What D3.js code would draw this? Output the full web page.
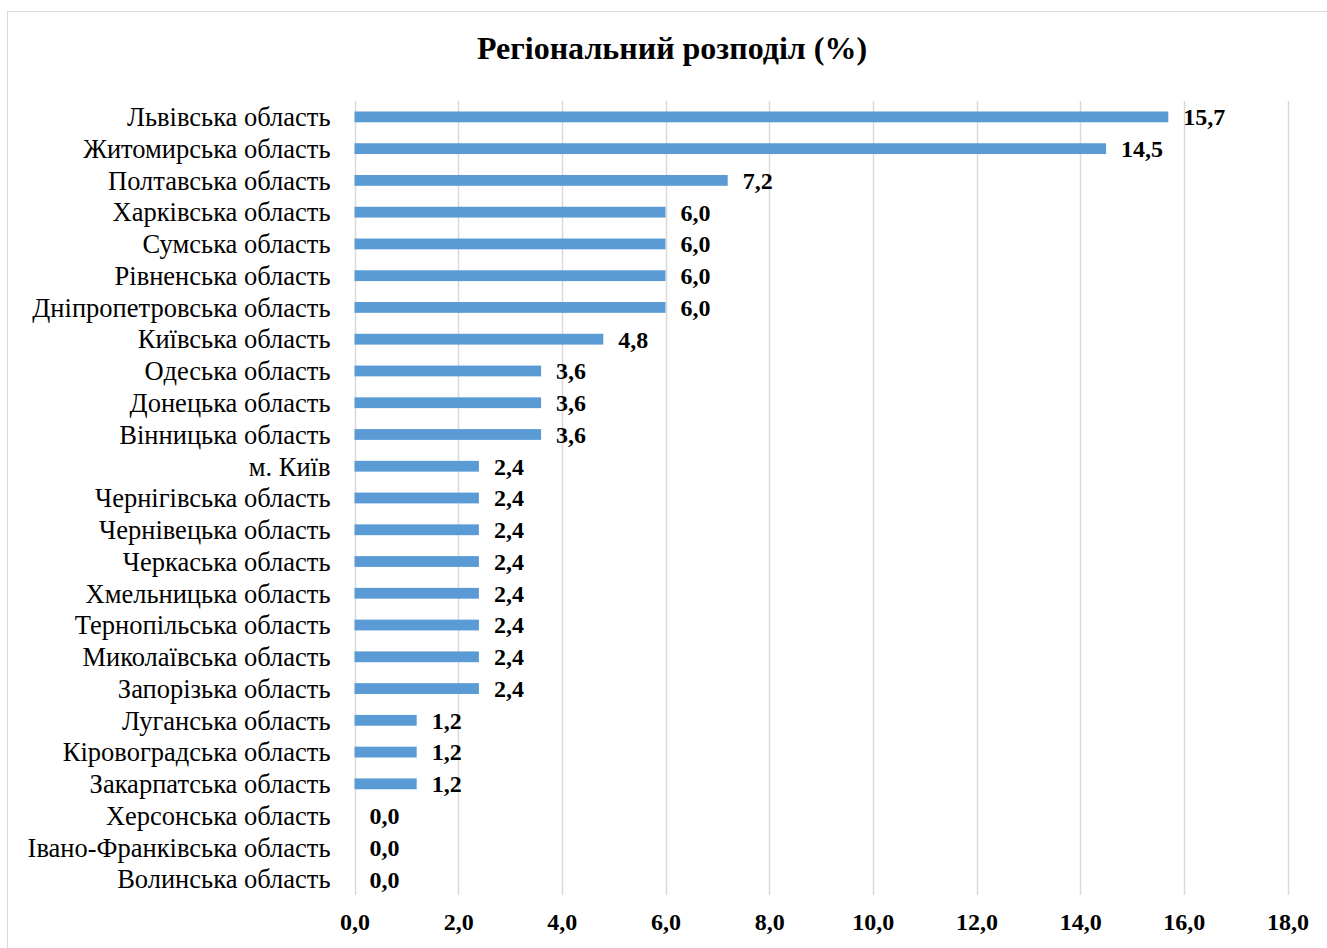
<!DOCTYPE html>
<html><head><meta charset="utf-8">
<script src="https://cdn.jsdelivr.net/npm/d3@7"></script>
<style>body{margin:0;background:#fff}svg{display:block}</style>
</head><body>
<script>
const title = "Регіональний розподіл (%)";
const categories = ["Львівська область","Житомирська область","Полтавська область","Харківська область","Сумська область","Рівненська область","Дніпропетровська область","Київська область","Одеська область","Донецька область","Вінницька область","м. Київ","Чернігівська область","Чернівецька область","Черкаська область","Хмельницька область","Тернопільська область","Миколаївська область","Запорізька область","Луганська область","Кіровоградська область","Закарпатська область","Херсонська область","Івано-Франківська область","Волинська область"];
const values = [15.7,14.5,7.2,6.0,6.0,6.0,6.0,4.8,3.6,3.6,3.6,2.4,2.4,2.4,2.4,2.4,2.4,2.4,2.4,1.2,1.2,1.2,0.0,0.0,0.0];
const xTicks = [0,2,4,6,8,10,12,14,16,18];

const W = 1327, H = 948;
const svg = d3.select("body").append("svg").attr("width", W).attr("height", H);
const font = "'Liberation Serif','Times New Roman',serif";
const fmt = v => v.toFixed(1).replace(".", ",");

svg.append("rect").attr("x", 7.5).attr("y", 11.5).attr("width", W).attr("height", H)
  .attr("fill", "#fff").attr("stroke", "#d9d9d9").attr("stroke-width", 1);

const pL = 354.5, pR = 1287.5, pT = 101, pB = 895;
const x = d3.scaleLinear().domain([0, 18]).range([pL, pR]);
const y = d3.scaleBand().domain(categories).range([pT, pB]).paddingInner(0.66).paddingOuter(0.33);

svg.append("text").attr("x", 672).attr("y", 59).attr("text-anchor", "middle")
  .attr("font-family", font).attr("font-weight", "bold").attr("font-size", 32).attr("fill", "#000").text(title);

svg.append("g").selectAll("line").data(xTicks).join("line")
  .attr("x1", d => Math.round(x(d)) + 0.5).attr("x2", d => Math.round(x(d)) + 0.5)
  .attr("y1", pT).attr("y2", pB).attr("stroke", "#d9d9d9").attr("stroke-width", 1.5);

const xAxis = svg.append("g").attr("transform", `translate(0,${pB})`)
  .call(d3.axisBottom(x).tickValues(xTicks).tickFormat(fmt).tickSize(0).tickPadding(18));
xAxis.select(".domain").remove();
xAxis.selectAll("text").attr("font-family", font).attr("font-weight", "bold").attr("font-size", 24).attr("fill", "#000");

const yAxis = svg.append("g").attr("transform", `translate(${pL - 24},0)`)
  .call(d3.axisLeft(y).tickSize(0).tickPadding(0));
yAxis.select(".domain").remove();
yAxis.selectAll("text").attr("font-family", font).attr("font-size", 26.5).attr("fill", "#000").attr("dy", "0.35em");

svg.append("g").selectAll("rect").data(values).join("rect")
  .attr("x", x(0)).attr("y", (d, i) => y(categories[i]))
  .attr("width", d => x(d) - x(0)).attr("height", y.bandwidth()).attr("fill", "#5b9bd5");

svg.append("g").selectAll("text").data(values).join("text")
  .attr("x", d => x(d) + 15).attr("y", (d, i) => y(categories[i]) + y.bandwidth() / 2)
  .attr("dy", "0.35em").attr("font-family", font).attr("font-weight", "bold").attr("font-size", 24)
  .attr("fill", "#000").text(fmt);
</script>
</body></html>
